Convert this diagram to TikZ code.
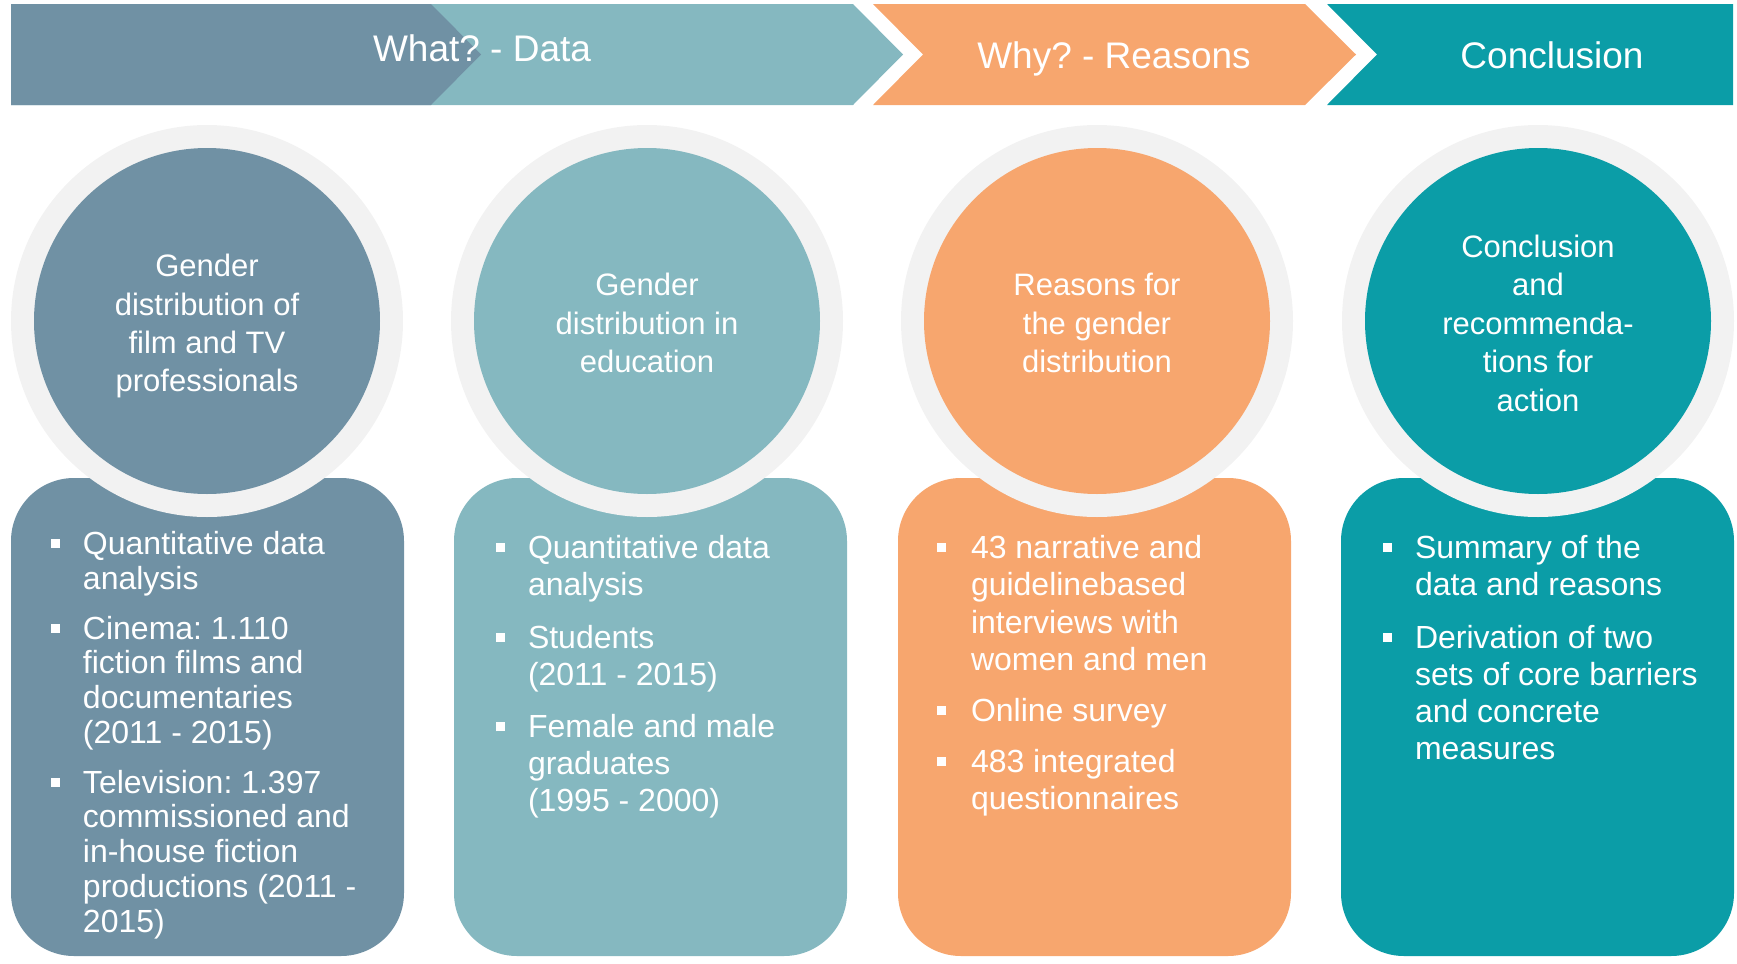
\documentclass[tikz,border=0pt]{standalone}
\usepackage{fontspec}
\setmainfont{Liberation Sans}

\definecolor{slate}{HTML}{7091A4}
\definecolor{mist}{HTML}{85B8C0}
\definecolor{apricot}{HTML}{F7A66E}
\definecolor{lagoon}{HTML}{0B9DA7}
\definecolor{ringgrey}{HTML}{F2F2F2}

% square bullet for the lists
\newcommand{\bul}{\rule[3.25pt]{4.5pt}{4.5pt}}

\begin{document}
\frenchspacing
\begin{tikzpicture}[x=0.5pt,y=-0.5pt,
  head/.style={text=white,font=\fontsize{18.5}{22}\selectfont,anchor=base,inner sep=0},
  panel/.style={rectangle,rounded corners=31.5pt,minimum width=196.5pt,minimum height=239pt,inner sep=0},
  ring/.style={circle,fill=ringgrey,minimum size=196pt,inner sep=0},
  disc/.style={circle,minimum size=173pt,inner sep=0},
  disctext/.style={inner sep=0,text depth=0pt,text=white,align=center,font=\fontsize{15.5}{19.2}\selectfont},
  list/.style={anchor=base west,inner sep=0,text=white,font=\fontsize{16}{18.4}\selectfont}]
\useasboundingbox (0,0) rectangle (1737,964);

% top banner
\fill[mist] (11,4) -- (853,4) -- (903,54.5) -- (853,105) -- (11,105) -- cycle;
\fill[slate] (11,4) -- (431,4) -- (481,54.5) -- (431,105) -- (11,105) -- cycle;
\fill[apricot] (873,4) -- (1305,4) -- (1356,54.5) -- (1305,105) -- (873,105) -- (923,54.5) -- cycle;
\fill[lagoon] (1327,4) -- (1733,4) -- (1733,105) -- (1327,105) -- (1377,54.5) -- cycle;
\node[head] (what) at (482,61.5) {What? - Data};
\node[head] (why) at (1114,68) {Why? - Reasons};
\node[head] (concl) at (1552,68) {Conclusion};

% panels under the circles
\node[panel,fill=slate] (box1) at (207.5,717) {};
\node[panel,fill=mist] (box2) at (650.5,717) {};
\node[panel,fill=apricot] (box3) at (1094.5,717) {};
\node[panel,fill=lagoon] (box4) at (1537.5,717) {};

% circles
\node[ring] (ring1) at (207,321) {};
\node[ring] (ring2) at (647,321) {};
\node[ring] (ring3) at (1097,321) {};
\node[ring] (ring4) at (1538,321) {};
\node[disc,fill=slate] (disc1) at (ring1) {};
\node[disc,fill=mist] (disc2) at (ring2) {};
\node[disc,fill=apricot] (disc3) at (ring3) {};
\node[disc,fill=lagoon] (disc4) at (ring4) {};
\node[disctext] (txt1) at ([yshift=-1pt]disc1) {Gender\\distribution of\\film and TV\\professionals};
\node[disctext] (txt2) at ([yshift=-1pt]disc2) {Gender\\distribution in\\education};
\node[disctext] (txt3) at ([yshift=-1pt]disc3) {Reasons for\\the gender\\distribution};
\node[disctext] (txt4) at ([yshift=-1pt]disc4) {Conclusion\\and\\recommenda-\\tions for\\action};

% bullet lists
\node[list,font=\fontsize{16}{17.35}\selectfont] (list1) at ([xshift=20pt,yshift=-38.5pt]box1.north west) {%
\begin{tabular}[t]{@{}p{16pt}@{}l@{}}
\bul & Quantitative data\\
 & analysis\\[7.6pt]
\bul & Cinema: 1.110\\
 & fiction films and\\
 & documentaries\\
 & (2011 - 2015)\\[7.6pt]
\bul & Television: 1.397\\
 & commissioned and\\
 & in-house fiction\\
 & productions (2011 -\\
 & 2015)
\end{tabular}};
\node[list] (list2) at ([xshift=21pt,yshift=-40.5pt]box2.north west) {%
\begin{tabular}[t]{@{}p{16pt}@{}l@{}}
\bul & Quantitative data\\
 & analysis\\[8pt]
\bul & Students\\
 & (2011 - 2015)\\[8pt]
\bul & Female and male\\
 & graduates\\
 & (1995 - 2000)
\end{tabular}};
\node[list,font=\fontsize{16}{18.6}\selectfont] (list3) at ([xshift=19.5pt,yshift=-40.5pt]box3.north west) {%
\begin{tabular}[t]{@{}p{17pt}@{}l@{}}
\bul & 43 narrative and\\
 & guidelinebased\\
 & interviews with\\
 & women and men\\[7pt]
\bul & Online survey\\[7pt]
\bul & 483 integrated\\
 & questionnaires
\end{tabular}};
\node[list,font=\fontsize{16}{18.5}\selectfont] (list4) at ([xshift=21pt,yshift=-40.5pt]box4.north west) {%
\begin{tabular}[t]{@{}p{16pt}@{}l@{}}
\bul & Summary of the\\
 & data and reasons\\[8pt]
\bul & Derivation of two\\
 & sets of core barriers\\
 & and concrete\\
 & measures
\end{tabular}};
\end{tikzpicture}
\end{document}
